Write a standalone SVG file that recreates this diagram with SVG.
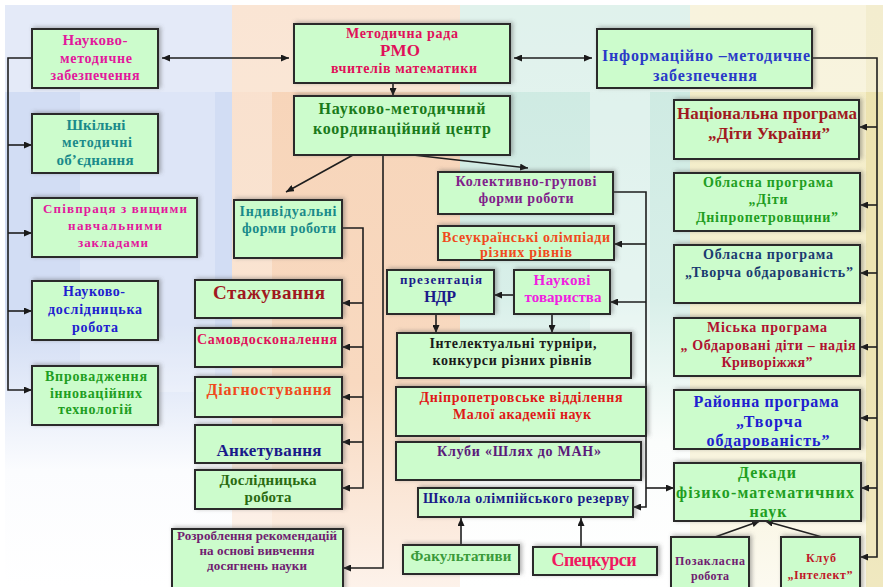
<svg xmlns="http://www.w3.org/2000/svg" width="883" height="587" viewBox="0 0 883 587">
<defs>
<linearGradient id="gB" x1="0" y1="0" x2="0" y2="1"><stop offset="0" stop-color="#d2ddf4"/><stop offset="0.55" stop-color="#d2ddf4"/><stop offset="0.8" stop-color="#fbfcfe"/><stop offset="1" stop-color="#ffffff"/></linearGradient>
<linearGradient id="gO" x1="0" y1="0" x2="0" y2="1"><stop offset="0" stop-color="#f7d4b8"/><stop offset="0.65" stop-color="#f8d9c0"/><stop offset="1" stop-color="#fdf2ea"/></linearGradient>
<linearGradient id="gT" x1="0" y1="0" x2="0" y2="1"><stop offset="0" stop-color="#cbe9e0"/><stop offset="0.5" stop-color="#d8efe9"/><stop offset="0.75" stop-color="#fbfdfc"/><stop offset="1" stop-color="#ffffff"/></linearGradient>
<linearGradient id="gY" x1="0" y1="0" x2="0" y2="1"><stop offset="0" stop-color="#f3ecc6"/><stop offset="0.6" stop-color="#f5efd0"/><stop offset="1" stop-color="#fcfaf0"/></linearGradient>
<filter id="sh" x="-10%" y="-20%" width="125%" height="145%"><feDropShadow dx="2" dy="-1" stdDeviation="2" flood-color="#555" flood-opacity="0.45"/></filter>
<marker id="ar" viewBox="0 0 8 7" refX="8" refY="3.5" markerWidth="8" markerHeight="7" markerUnits="userSpaceOnUse" orient="auto-start-reverse"><path d="M0,0 L8,3.5 L0,7 z" fill="#1a1a1a"/></marker>
</defs>
<style>
.box{fill:#ccfccc;stroke:#2b2b2b;stroke-width:2;filter:url(#sh)}
.c{fill:none;stroke:#1e1e1e;stroke-width:1.6}
.a{marker-end:url(#ar)}
.d{marker-start:url(#ar);marker-end:url(#ar)}
text{font-family:"Liberation Serif","Times New Roman",serif;font-weight:bold;text-anchor:middle;font-size:14px}
.s12{font-size:12px}.s13{font-size:13px}.s15{font-size:15px}.s16{font-size:16px}.s17{font-size:17px}.s18{font-size:18px}.s19{font-size:19px}
.mag{fill:#e2189c}.crim{fill:#e0105a}.blu{fill:#2a3ac8}.teal{fill:#1a8a8a}.grn{fill:#1f9e22}
.dgrn{fill:#1a7a1a}.dred{fill:#a01820}.red{fill:#e01818}.ora{fill:#f04a1c}.navy{fill:#1a1a8a}
.purp{fill:#702070}.vio{fill:#80208a}.pink{fill:#f020e0}.blk{fill:#1a1a1a}.olv{fill:#2a6a10}
.fgr{fill:#3a9a3a}.rb{fill:#2020d0}.mcrim{fill:#b01030}.nv2{fill:#1a3a70}.kl{fill:#c01828}
.klub{fill:#5a1a7a}.spec{fill:#f01860}
</style>
<g id="background">
<rect x="0" y="0" width="883" height="587" fill="#ffffff"/>
<rect x="5" y="5" width="227" height="582" fill="url(#gB)"/>
<rect x="80" y="92" width="135" height="300" fill="#ffffff" opacity="0.25"/>
<rect x="232" y="5" width="228" height="582" fill="url(#gO)"/>
<rect x="232" y="92" width="40" height="495" fill="#ffffff" opacity="0.3"/>
<rect x="460" y="5" width="230" height="582" fill="url(#gT)"/>
<rect x="590" y="92" width="60" height="300" fill="#ffffff" opacity="0.35"/>
<rect x="690" y="5" width="193" height="582" fill="url(#gY)"/>
<rect x="866" y="5" width="17" height="582" fill="#e8dca0" opacity="0.6"/>
<rect x="5" y="5" width="878" height="87" fill="#ffffff" opacity="0.4"/>
</g>
<g id="connectors">
<line class="c d" x1="162" y1="58" x2="289" y2="58"/>
<line class="c d" x1="514" y1="58" x2="592" y2="58"/>
<path class="c a" d="M32,58 H8 V390 H32"/>
<line class="c a" x1="8" y1="145" x2="32" y2="145"/>
<line class="c a" x1="8" y1="233" x2="32" y2="233"/>
<line class="c a" x1="8" y1="311" x2="32" y2="311"/>
<line class="c a" x1="393" y1="83" x2="393" y2="96"/>
<line class="c a" x1="353" y1="155" x2="286" y2="192"/>
<line class="c a" x1="413" y1="155" x2="528" y2="168"/>
<path class="c a" d="M383,155 V568 H343"/>
<path class="c a" d="M342,228 H363 V488 H342"/>
<line class="c a" x1="363" y1="303" x2="342" y2="303"/>
<line class="c a" x1="363" y1="347" x2="342" y2="347"/>
<line class="c a" x1="363" y1="397" x2="342" y2="397"/>
<line class="c a" x1="363" y1="442" x2="342" y2="442"/>
<path class="c a" d="M613,192 H646 V507 H633"/>
<line class="c a" x1="646" y1="244" x2="614" y2="244"/>
<line class="c a" x1="646" y1="302" x2="610" y2="302"/>
<line class="c a" x1="646" y1="488" x2="674" y2="488"/>
<line class="c a" x1="436" y1="314" x2="436" y2="333"/>
<line class="c a" x1="552" y1="314" x2="552" y2="333"/>
<line class="c a" x1="514" y1="295" x2="494" y2="295"/>
<line class="c a" x1="461" y1="545" x2="461" y2="518"/>
<line class="c a" x1="581" y1="547" x2="581" y2="518"/>
<path class="c a" d="M812,58 H877 V557 H860"/>
<line class="c a" x1="877" y1="127" x2="859" y2="127"/>
<line class="c a" x1="877" y1="205" x2="860" y2="205"/>
<line class="c a" x1="877" y1="273" x2="860" y2="273"/>
<line class="c a" x1="877" y1="347" x2="860" y2="347"/>
<line class="c a" x1="877" y1="418" x2="860" y2="418"/>
<line class="c a" x1="877" y1="488" x2="861" y2="488"/>
<line class="c a" x1="715" y1="537" x2="760" y2="521"/>
<line class="c a" x1="822" y1="537" x2="765" y2="521"/>
</g>
<g id="n1"><rect class="box" x="32" y="29" width="126" height="59"/>
<text class="mag s15" x="95" y="45" textLength="65">Науково-</text>
<text class="mag" x="96" y="63" textLength="72">методичне</text>
<text class="mag" x="95" y="80" textLength="89">забезпечення</text></g>
<g id="n2"><rect class="box" x="294" y="24" width="216" height="59"/>
<text class="crim" x="402" y="38" textLength="112">Методична рада</text>
<text class="crim s17" x="400" y="56" textLength="40">РМО</text>
<text class="crim" x="404" y="73" textLength="146">вчителів математики</text></g>
<g id="n3"><rect class="box" x="597" y="29" width="215" height="59"/>
<text class="blu s16" x="706" y="61" textLength="208">Інформаційно –методичне</text>
<text class="blu s16" x="705" y="81" textLength="104">забезпечення</text></g>
<g id="n4"><rect class="box" x="32" y="114" width="126" height="59"/>
<text class="teal s15" x="96" y="130" textLength="59">Шкільні</text>
<text class="teal" x="97" y="147" textLength="70">методичні</text>
<text class="teal s15" x="95" y="165" textLength="77">об’єднання</text></g>
<g id="n5"><rect class="box" x="32" y="198" width="165" height="59"/>
<text class="mag s13" x="115" y="213" textLength="144">Співпраця з  вищими</text>
<text class="mag s13" x="115" y="230" textLength="94">навчальними</text>
<text class="mag s13" x="113" y="247" textLength="70">закладами</text></g>
<g id="n6"><rect class="box" x="32" y="281" width="126" height="59"/>
<text class="rb" x="94" y="296" textLength="62">Науково-</text>
<text class="rb" x="95" y="314" textLength="94">дослідницька</text>
<text class="rb" x="95" y="332" textLength="46">робота</text></g>
<g id="n7"><rect class="box" x="32" y="366" width="126" height="59"/>
<text class="grn" x="96" y="381" textLength="102">Впровадження</text>
<text class="grn" x="96" y="398" textLength="92">інноваційних</text>
<text class="grn" x="95" y="414" textLength="74">технологій</text></g>
<g id="n8"><rect class="box" x="294" y="96" width="216" height="59"/>
<text class="dgrn s16" x="402" y="114" textLength="167">Науково-методичний</text>
<text class="dgrn s16" x="402" y="134" textLength="178">координаційний центр</text></g>
<g id="n9"><rect class="box" x="234" y="200" width="108" height="58"/>
<text class="teal" x="288" y="216" textLength="97">Індивідуальні</text>
<text class="teal" x="289" y="233" textLength="94">форми роботи</text></g>
<g id="n10"><rect class="box" x="195" y="280" width="147" height="38"/>
<text class="dred s19" x="269" y="299" textLength="112">Стажування</text></g>
<g id="n11"><rect class="box" x="195" y="328" width="147" height="39"/>
<text class="crim" x="267" y="344" textLength="140">Самовдосконалення</text></g>
<g id="n12"><rect class="box" x="195" y="377" width="147" height="40"/>
<text class="ora s16" x="269" y="395" textLength="125">Діагностування</text></g>
<g id="n13"><rect class="box" x="195" y="425" width="147" height="38"/>
<text class="navy s17" x="269" y="456" textLength="105">Анкетування</text></g>
<g id="n14"><rect class="box" x="195" y="470" width="147" height="39"/>
<text class="olv s15" x="268" y="485" textLength="97">Дослідницька</text>
<text class="olv s15" x="268" y="502" textLength="47">робота</text></g>
<g id="n15"><rect class="box" x="172" y="529" width="171" height="64"/>
<text class="purp s13" x="257" y="540" textLength="160">Розроблення рекомендацій</text>
<text class="purp s13" x="257" y="555" textLength="115">на основі вивчення</text>
<text class="purp s13" x="257" y="570" textLength="100">досягнень науки</text></g>
<g id="n16"><rect class="box" x="438" y="172" width="175" height="42"/>
<text class="vio" x="526" y="186" textLength="141">Колективно-групові</text>
<text class="vio" x="526" y="203" textLength="95">форми роботи</text></g>
<g id="n17"><rect class="box" x="438" y="226" width="176" height="34"/>
<text class="ora" x="526" y="242" textLength="168">Всеукраїнські олімпіади</text>
<text class="ora" x="526" y="257" textLength="92">різних рівнів</text></g>
<g id="n18"><rect class="box" x="387" y="270" width="107" height="44"/>
<text class="navy s13" x="441" y="284" textLength="82">презентація</text>
<text class="navy s16" x="440" y="302" textLength="32">НДР</text></g>
<g id="n19"><rect class="box" x="514" y="270" width="96" height="44"/>
<text class="pink s15" x="562" y="285" textLength="57">Наукові</text>
<text class="pink s15" x="563" y="302" textLength="77">товариства</text></g>
<g id="n20"><rect class="box" x="397" y="333" width="234" height="45"/>
<text class="blk" x="513" y="348" textLength="167">Інтелектуальні турніри,</text>
<text class="blk" x="512" y="365" textLength="159">конкурси  різних рівнів</text></g>
<g id="n21"><rect class="box" x="396" y="387" width="250" height="49"/>
<text class="red" x="521" y="402" textLength="203">Дніпропетровське відділення</text>
<text class="red" x="522" y="419" textLength="138">Малої академії наук</text></g>
<g id="n22"><rect class="box" x="396" y="442" width="245" height="38"/>
<text class="klub" x="519" y="456" textLength="164">Клуби «Шлях до МАН»</text></g>
<g id="n23"><rect class="box" x="418" y="488" width="215" height="29"/>
<text class="navy" x="526" y="503" textLength="206">Школа олімпійського резерву</text></g>
<g id="n24"><rect class="box" x="403" y="545" width="116" height="29"/>
<text class="fgr s15" x="461" y="561" textLength="101">Факультативи</text></g>
<g id="n25"><rect class="box" x="533" y="547" width="124" height="28"/>
<text class="spec s18" x="594" y="566" textLength="85">Спецкурси</text></g>
<g id="n26"><rect class="box" x="674" y="100" width="185" height="59"/>
<text class="dred s17" x="767" y="119" textLength="180">Національна програма</text>
<text class="dred s17" x="769" y="139" textLength="122">„Діти України”</text></g>
<g id="n27"><rect class="box" x="674" y="173" width="186" height="58"/>
<text class="grn" x="768" y="187" textLength="130">Обласна програма</text>
<text class="grn" x="768" y="204" textLength="39">„Діти</text>
<text class="grn" x="767" y="222" textLength="142">Дніпропетровщини”</text></g>
<g id="n28"><rect class="box" x="674" y="245" width="186" height="58"/>
<text class="nv2" x="768" y="259" textLength="130">Обласна програма</text>
<text class="nv2" x="769" y="277" textLength="168">„Творча обдарованість”</text></g>
<g id="n29"><rect class="box" x="674" y="318" width="186" height="58"/>
<text class="mcrim" x="767" y="332" textLength="120">Міська програма</text>
<text class="mcrim" x="768" y="350" textLength="175">„ Обдаровані діти – надія</text>
<text class="mcrim" x="767" y="367" textLength="91">Криворіжжя”</text></g>
<g id="n30"><rect class="box" x="674" y="390" width="186" height="59"/>
<text class="rb s16" x="766" y="407" textLength="145">Районна програма</text>
<text class="rb s16" x="769" y="427" textLength="66">„Творча</text>
<text class="rb s16" x="768" y="446" textLength="123">обдарованість”</text></g>
<g id="n31"><rect class="box" x="674" y="463" width="187" height="58"/>
<text class="grn s16" x="767" y="478" textLength="58">Декади</text>
<text class="grn s16" x="765" y="498" textLength="178">фізико-математичних</text>
<text class="grn s16" x="768" y="517" textLength="37">наук</text></g>
<g id="n32"><rect class="box" x="671" y="537" width="78" height="58"/>
<text class="purp s12" x="710" y="565" textLength="70">Позакласна</text>
<text class="purp s12" x="710" y="580" textLength="38">робота</text></g>
<g id="n33"><rect class="box" x="781" y="537" width="79" height="58"/>
<text class="kl s12" x="821" y="562" textLength="30">Клуб</text>
<text class="kl s12" x="820" y="579" textLength="65">„Інтелект”</text></g>
</svg>
